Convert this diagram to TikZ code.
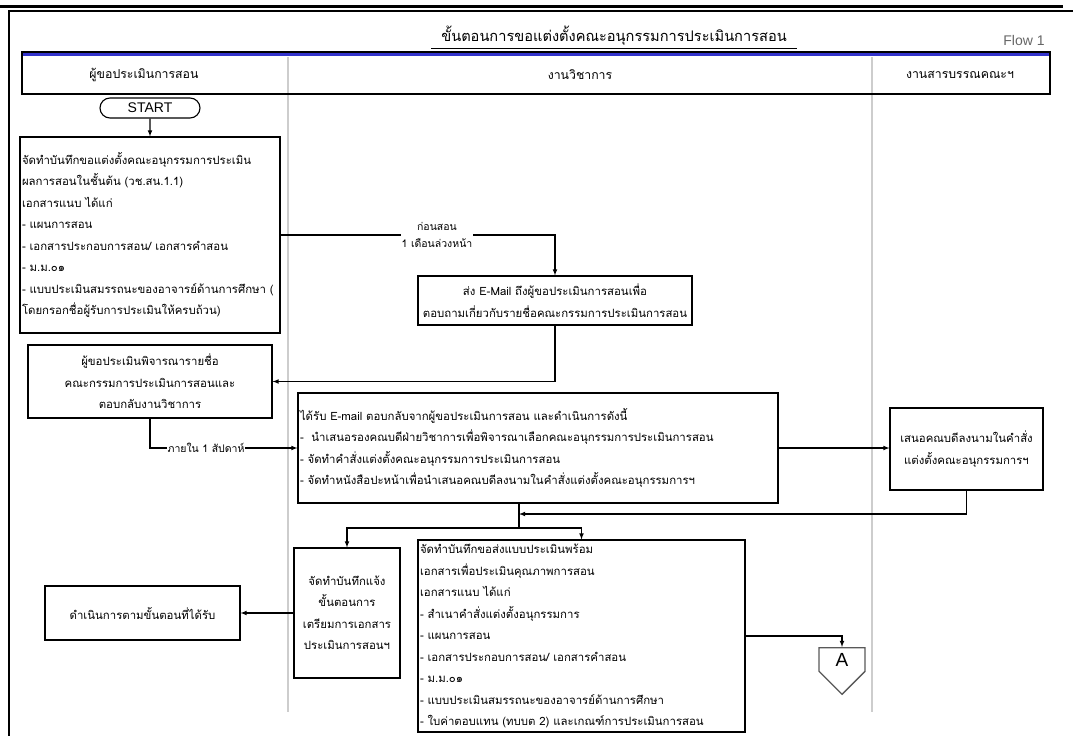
\documentclass[tikz,border=0pt]{standalone}
\usepackage{fontspec}
\setmainfont{Liberation Sans}
\newfontfamily\thaifont[Script=Thai]{Loma}
\usepackage{xcolor}
\usepackage{tikz}
\usetikzlibrary{shapes.misc,shapes.symbols,calc}
\definecolor{barblue}{RGB}{51,51,204}
\definecolor{lanegray}{RGB}{205,205,205}

\begin{document}
\begin{tikzpicture}[x=1pt,y=-1pt,>=latex,
                    box/.style={draw,fill=white,line width=1.1pt,inner sep=2pt,font=\thaifont\fontsize{11.4}{21.5}\selectfont},
                    list box/.style={box,align=left},
                    mid box/.style={box,align=center},
                    flow/.style={->,line width=1.1pt},
                    lbl/.style={fill=white,inner sep=1pt,align=center,font=\thaifont\fontsize{10.5}{17}\selectfont},
                    lane/.style={font=\thaifont\fontsize{12.3}{16}\selectfont}]

  \useasboundingbox (0,0) rectangle (1073,736);

  % frame and title
  \draw[line width=3pt] (0,6) -- (1063,6);
  \draw[line width=1.6pt] (1073,11) -- (9,11) -- (9,736);
  \node[font=\thaifont\fontsize{14.6}{18}\selectfont,inner xsep=10pt,inner ysep=3pt] (title) at (614,36) {ขั้นตอนการขอแต่งตั้งคณะอนุกรรมการประเมินการสอน};
  \draw[line width=0.8pt] (title.south west) -- (title.south east);
  \node[text=black!60,font=\fontsize{14}{16}\selectfont] (flow) at (1024,40) {Flow 1};

  % swimlanes
  \draw[lanegray,line width=1.2pt] (288,57) -- (288,712);
  \draw[lanegray,line width=1.2pt] (872,57) -- (872,712);
  \fill[barblue] (22,52) rectangle (1050,56);
  \draw[line width=1.1pt] (22,52) rectangle (1050,94);
  \node[lane] (lane1) at (144,75) {ผู้ขอประเมินการสอน};
  \node[lane] (lane2) at (580,75) {งานวิชาการ};
  \node[lane] (lane3) at (960,75) {งานสารบรรณคณะฯ};

  % steps
  \node[draw,fill=white,line width=1.1pt,rounded rectangle,minimum width=100pt,minimum height=20pt,inner sep=0pt,font=\fontsize{14}{14}\selectfont] (start) at (150,108) {START};
  \node[list box,text width=256pt,minimum height=196pt] (1) at (150,235) {จัดทำบันทึกขอแต่งตั้งคณะอนุกรรมการประเมิน\\ผลการสอนในชั้นต้น (วช.สน.1.1)\\เอกสารแนบ ได้แก่\\- แผนการสอน\\- เอกสารประกอบการสอน/ เอกสารคำสอน\\- ม.ม.๐๑\\- แบบประเมินสมรรถนะของอาจารย์ด้านการศึกษา (\\โดยกรอกชื่อผู้รับการประเมินให้ครบถ้วน)};
  \node[mid box,minimum width=274pt,minimum height=49pt] (2) at (555,300.5) {ส่ง E-Mail ถึงผู้ขอประเมินการสอนเพื่อ\\ตอบถามเกี่ยวกับรายชื่อคณะกรรมการประเมินการสอน};
  \node[mid box,minimum width=244pt,minimum height=73pt] (3) at (150,381.5) {ผู้ขอประเมินพิจารณารายชื่อ\\คณะกรรมการประเมินการสอนและ\\ตอบกลับงานวิชาการ};
  \node[list box,text width=476pt,minimum height=110pt] (4) at (538,448) {ได้รับ E-mail ตอบกลับจากผู้ขอประเมินการสอน และดำเนินการดังนี้\\-\ \ นำเสนอรองคณบดีฝ่ายวิชาการเพื่อพิจารณาเลือกคณะอนุกรรมการประเมินการสอน\\- จัดทำคำสั่งแต่งตั้งคณะอนุกรรมการประเมินการสอน\\- จัดทำหนังสือปะหน้าเพื่อนำเสนอคณบดีลงนามในคำสั่งแต่งตั้งคณะอนุกรรมการฯ};
  \node[mid box,minimum width=153pt,minimum height=82pt] (5) at (966.5,449) {เสนอคณบดีลงนามในคำสั่ง\\แต่งตั้งคณะอนุกรรมการฯ};
  \node[mid box,minimum width=106pt,minimum height=130pt] (6) at (347,613) {จัดทำบันทึกแจ้ง\\ขั้นตอนการ\\เตรียมการเอกสาร\\ประเมินการสอนฯ};
  \node[list box,text width=323pt,minimum height=192pt] (7) at (581.5,636) {จัดทำบันทึกขอส่งแบบประเมินพร้อม\\เอกสารเพื่อประเมินคุณภาพการสอน\\เอกสารแนบ ได้แก่\\- สำเนาคำสั่งแต่งตั้งอนุกรรมการ\\- แผนการสอน\\- เอกสารประกอบการสอน/ เอกสารคำสอน\\- ม.ม.๐๑\\- แบบประเมินสมรรถนะของอาจารย์ด้านการศึกษา\\- ใบค่าตอบแทน (ทบบต 2) และเกณฑ์การประเมินการสอน};
  \node[mid box,minimum width=195pt,minimum height=54pt] (8) at (142.5,613) {ดำเนินการตามขั้นตอนที่ได้รับ};
  \node[draw=black!65,fill=white,line width=1.3pt,signal,signal to=south,signal from=nowhere,signal pointer angle=90,minimum width=46pt,minimum height=30pt,inner sep=0pt,anchor=north,font=\fontsize{19}{19}\selectfont] (A) at (842,647) {A};

  \coordinate (join) at (519,514);
  \coordinate (split) at (519,528);

  % connectors
  \draw[flow] (start) -- (1);
  \draw[flow] (1.east) -| node[lbl,pos=0.285] {ก่อนสอน\\1 เดือนล่วงหน้า} (2.north);
  \draw[flow] (2.south) |- (3.east);
  \draw[flow] (3.south) |- node[lbl,pos=0.69] {ภายใน 1 สัปดาห์} (4.west);
  \draw[flow] (4.east) -- (4.east -| 5.west);
  \draw[flow] (5.south) |- (join);
  \draw[line width=1.1pt] (4.south -| split) -- (split);
  \draw[flow] (split) -| (6.north);
  \draw[flow] (split) -| (7.north);
  \draw[flow] (6.west) -- (8.east);
  \draw[flow] (7.east) -| (A.north);
\end{tikzpicture}
\end{document}
